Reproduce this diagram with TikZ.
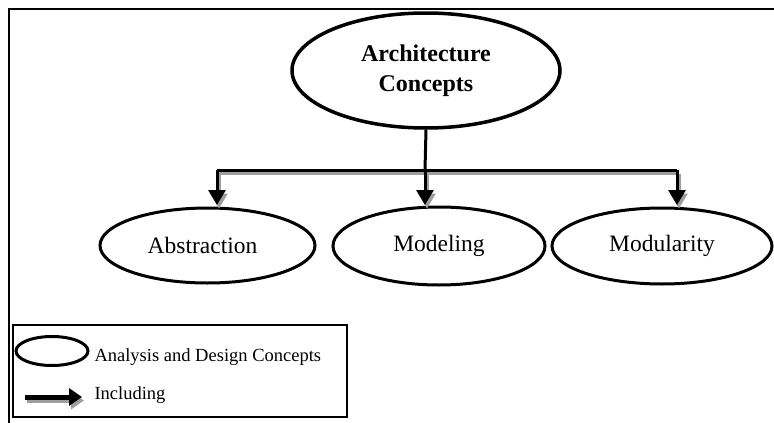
\documentclass[tikz,border=0pt]{standalone}
\usepackage{fontspec}
\setmainfont{Liberation Serif}
\usetikzlibrary{shapes.geometric,arrows.meta}
\begin{document}
\begin{tikzpicture}[x=1pt,y=-1pt,
  concept/.style={ellipse,draw,line width=3pt,inner sep=0pt,font=\fontsize{23.5}{28}\selectfont},
  link/.style={line width=3pt},
  linkarrow/.style={line width=3pt,-{Triangle[width=17pt,length=15pt]}},
  shadowed/.style={draw=black!38,fill=black!38,transform canvas={xshift=2pt,yshift=-3.5pt}},
  legtext/.style={anchor=west,font=\fontsize{18.5}{22}\selectfont}]
\useasboundingbox (0,0) rectangle (774,423);
% frame
\draw[line width=1.8pt] (774,9) -- (9,9) -- (9,423);
% nodes
\node[concept, line width=3.5pt, minimum width=268pt, minimum height=115pt, align=center,
      font=\fontsize{24}{30}\selectfont\bfseries] (arch) at (426,70.5) {Architecture\\Concepts};
\node[concept, minimum width=215pt, minimum height=75pt] (abs) at (207.5,245.5) {Abstraction\hspace*{10pt}};
\node[concept, minimum width=212pt, minimum height=78pt] (mod) at (439,246) {Modeling};
\node[concept, minimum width=220pt, minimum height=76pt] (modu) at (662,246) {Modularity};
% junction coordinates
\coordinate (jm) at (425,170);
\coordinate (jl) at (217,170);
\coordinate (jr) at (677,170);
\coordinate (tl) at (217,205);
\coordinate (tm) at (425,205);
\coordinate (tr) at (677,205);
% shadows
\begin{scope}[shadowed]
  \draw[link,draw=black!38] (jl) -- (jr);
  \draw[linkarrow,draw=black!38] (jl) -- (tl);
  \draw[linkarrow,draw=black!38] (jm) -- (tm);
  \draw[linkarrow,draw=black!38] (jr) -- (tr);
\end{scope}
% connectors
\draw[link] (arch.south) -- (jm);
\draw[link] (jl) -- (jr);
\draw[linkarrow] (jl) -- (tl);
\draw[linkarrow] (jm) -- (tm);
\draw[linkarrow] (jr) -- (tr);
% legend
\node[draw, line width=1.5pt, minimum width=334pt, minimum height=92pt, inner sep=0pt] (legend) at (180,371) {};
\node[ellipse, draw, line width=3pt, minimum width=72pt, minimum height=29pt, inner sep=0pt] (lell) at (52,351) {};
\node[legtext] (ltext1) at (91,357) {Analysis and Design Concepts};
\coordinate (la1) at (25,397);
\coordinate (la2) at (82,397);
\draw[line width=5pt, draw=black!38, fill=black!38, -{Triangle[width=17pt,length=13pt]},
      transform canvas={xshift=2pt,yshift=-3.5pt}] (la1) -- (la2);
\draw[line width=5pt, -{Triangle[width=17pt,length=13pt]}] (la1) -- (la2);
\node[legtext] (ltext2) at (91,395) {Including};
\end{tikzpicture}
\end{document}
